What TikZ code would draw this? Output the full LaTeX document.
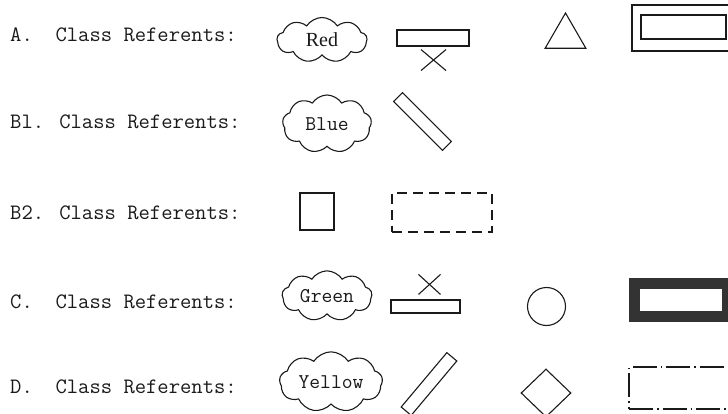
\documentclass[tikz,border=0pt]{standalone}
\usepackage{fontspec}
\setmainfont{Liberation Serif}
\usetikzlibrary{positioning,shapes.geometric,shapes.symbols}
\definecolor{refInk}{HTML}{1a1a1a}
\definecolor{refDark}{HTML}{333333}
\tikzset{
  ink/.style={draw=refInk, line width=1.1pt},
  lbl/.style={anchor=base west, inner sep=0pt, font=\fontsize{22}{24}\selectfont\ttfamily, text=refInk},
  cloudref/.style={ink, cloud, cloud puffs=9, cloud puff arc=115, aspect=2, inner sep=0pt,
              font=\fontsize{21}{24}\selectfont\ttfamily, text=refInk},
  bar/.style={ink, rectangle, inner sep=0pt},
  blockref/.style={ink, rectangle, inner sep=0pt},
}

\begin{document}
\begin{tikzpicture}[x=1pt,y=-1pt]
        \useasboundingbox (0,0) rectangle (728,414);
        % row labels
        \node[lbl] (la) at (10,42){A.\ \ Class Referents:};
        \node[lbl] (lb1) at (10,129){Bl. Class Referents:};
        \node[lbl] (lb2) at (10,220){B2. Class Referents:};
        \node[lbl] (lc) at (10,308){C.\ \ Class Referents:};
        \node[lbl] (ld) at (10,393){D.\ \ Class Referents:};
        % A
        \node[cloudref,minimum width=90pt,minimum height=45pt,font=\fontsize{20}{22}\selectfont\rmfamily] (red) at (322,40){Red};
        \node[bar,minimum width=72pt,minimum height=16pt] (barA) at (433,38){};
        \draw[ink] ([shift={(-12,3)}]barA.south)--([shift={(13,24)}]barA.south);
        \draw[ink] ([shift={(-12,24)}]barA.south)--([shift={(13,3)}]barA.south);
        \node[ink,regular polygon,regular polygon sides=3,minimum size=47pt,inner sep=0pt] (tri) at (565.5,36.5){};
        \node[blockref,minimum width=110pt,minimum height=46pt] (outA) at (687,28){};
        \node[blockref,minimum width=85pt,minimum height=24pt] (inA) at (683.5,27){};
        % B1
        \node[cloudref,minimum width=89pt,minimum height=58pt] (blue) at (327,124){Blue};
        \node[bar,minimum width=69pt,minimum height=12.5pt,rotate=-45] (barB) at (422.5,121.5){};
        % B2
        \node[blockref,minimum width=34pt,minimum height=37pt] (sq) at (317,211.5){};
        \node[blockref,dash pattern=on 10pt off 6pt,minimum width=100pt,minimum height=39pt] (dash) at (442,212.5){};
        % C
        \node[cloudref,minimum width=90pt,minimum height=46pt] (green) at (327,296){Green};
        \node[bar,minimum width=69pt,minimum height=13pt] (barC) at (425.5,306.5){};
        \draw[ink] ([shift={(-7,-5)}]barC.north)--([shift={(15,-25)}]barC.north);
        \draw[ink] ([shift={(-7,-25)}]barC.north)--([shift={(15,-5)}]barC.north);
        \node[ink,circle,minimum size=38pt,inner sep=0pt] (circ) at (546.5,306.5){};
        \node[rectangle,draw=refDark,line width=11pt,minimum width=93pt,minimum height=33pt,inner sep=0pt] (thick) at (681,300){};
        % D
        \node[cloudref,minimum width=103pt,minimum height=40pt] (yellow) at (331,382){Yellow};
        \node[bar,minimum width=71pt,minimum height=13pt,rotate=50] (barD) at (429,384){};
        \node[ink,diamond,minimum width=50pt,minimum height=48pt,inner sep=0pt] (dia) at (546,393){};
        \node[blockref,dash pattern=on 24pt off 4pt on 1.5pt off 4pt,minimum width=110pt,minimum height=42pt] (dashdot) at (684,388){};
      \end{tikzpicture}
\end{document}
